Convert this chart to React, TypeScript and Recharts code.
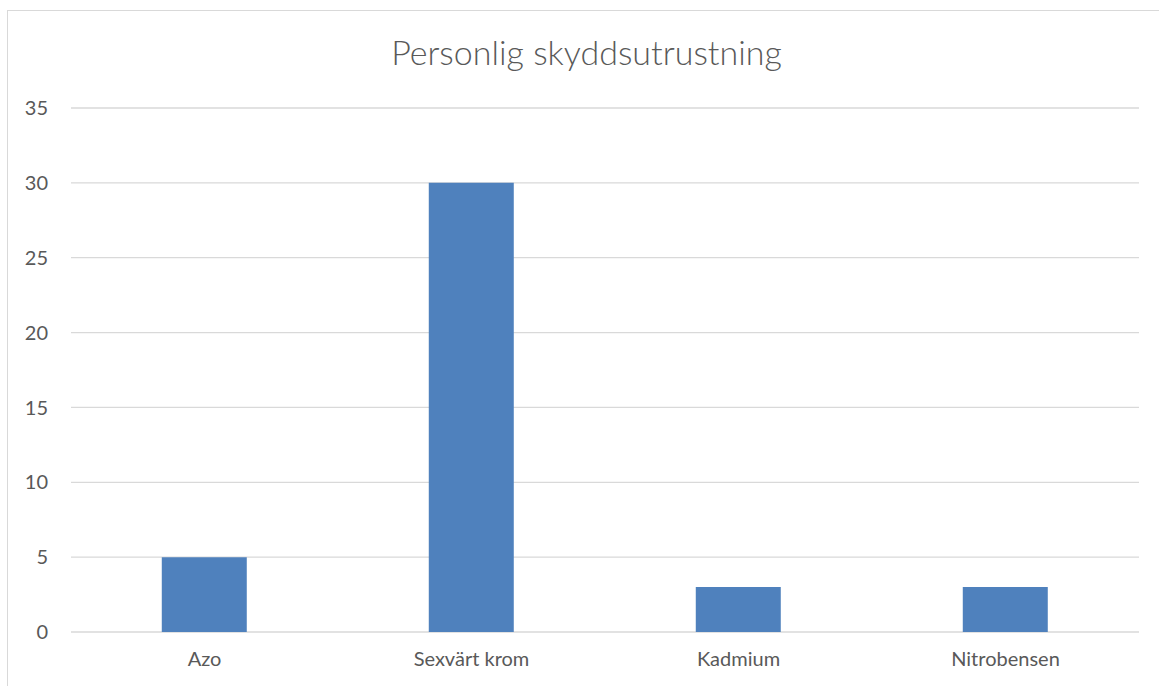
import { BarChart, Bar, XAxis, YAxis, CartesianGrid } from "recharts";

const categories = ["Azo", "Sexvärt krom", "Kadmium", "Nitrobensen"];
const counts = [5, 30, 3, 3];
const yTicks = [0, 5, 10, 15, 20, 25, 30, 35];

const data = categories.map((name, i) => ({ name, value: counts[i] }));

const FONT = "Lato, 'Noto Sans', sans-serif";
const TEXT = "#595959";

export default function App() {
  return (
    <div
      style={{
        position: "absolute",
        left: 0,
        top: 0,
        width: 1159,
        height: 686,
        background: "#fff",
        overflow: "hidden",
        fontFamily: FONT,
      }}
    >
      {/* chart frame */}
      <div
        style={{
          position: "absolute",
          left: 7,
          top: 10,
          width: 1170,
          height: 700,
          border: "1px solid #d9d9d9",
        }}
      />
      <div
        style={{
          position: "absolute",
          left: 0,
          top: 32,
          width: 1173,
          textAlign: "center",
          fontSize: 34,
          fontWeight: 300,
          color: TEXT,
          lineHeight: "40px",
        }}
      >
        Personlig skyddsutrustning
      </div>
      <div style={{ position: "absolute", left: 0, top: 0 }}>
        <BarChart
          width={1159}
          height={686}
          data={data}
          margin={{ top: 108, right: 20, left: 0, bottom: 0 }}
          barCategoryGap="34%"
        >
          <CartesianGrid vertical={false} stroke="#d9d9d9" strokeWidth={1.3} />
          <XAxis
            dataKey="name"
            height={54}
            axisLine={false}
            tickLine={false}
            tickSize={0}
            tickMargin={20}
            tick={{ fill: TEXT, fontSize: 20, fontFamily: FONT }}
            interval={0}
          />
          <YAxis
            width={71}
            domain={[0, 35]}
            ticks={yTicks}
            axisLine={false}
            tickLine={false}
            tickSize={0}
            tickMargin={23}
            tick={{ fill: TEXT, fontSize: 20, fontFamily: FONT }}
          />
          <Bar dataKey="value" fill="#4F81BD" isAnimationActive={false} />
        </BarChart>
      </div>
    </div>
  );
}
